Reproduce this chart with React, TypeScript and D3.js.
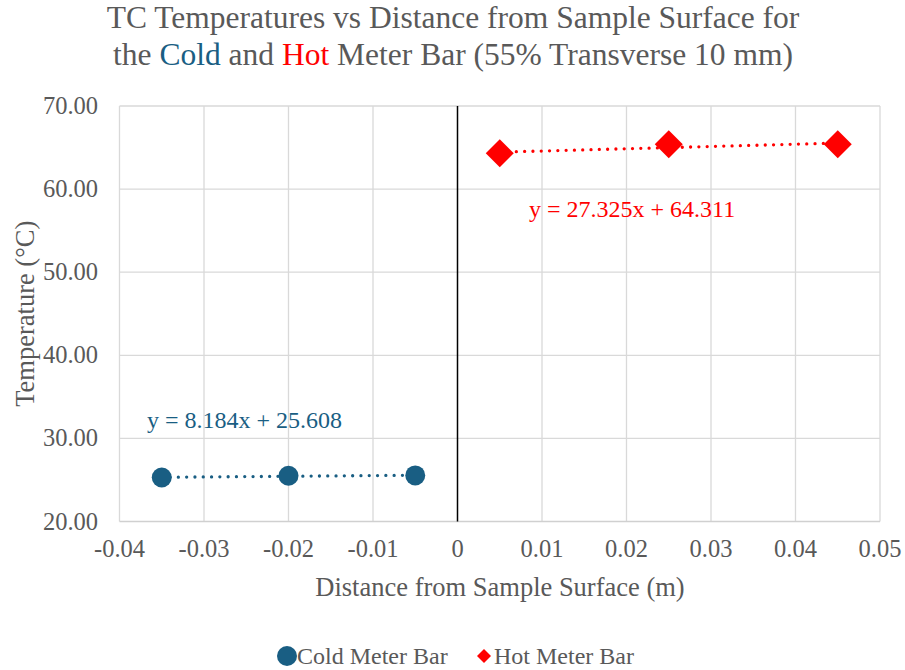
import React from "react";
import * as d3 from "d3";

const coldX = [-0.035, -0.02, -0.005];
const coldY = [25.3, 25.5, 25.55];
const hotX = [0.005, 0.025, 0.045];
const hotY = [64.3, 65.4, 65.4];
const coldFit = { slope: 8.184, intercept: 25.608 };
const hotFit = { slope: 27.325, intercept: 64.311 };
const xTicks = [-0.04, -0.03, -0.02, -0.01, 0, 0.01, 0.02, 0.03, 0.04, 0.05];
const yTicks = [20, 30, 40, 50, 60, 70];

const COLD = "#195E83";
const HOT = "#FF0000";
const GRAY = "#595959";
const FONT = "'Liberation Serif', 'Times New Roman', serif";

export default function App() {
  const W = 905, H = 670;
  const x = d3.scaleLinear().domain([-0.04, 0.05]).range([119.5, 880]);
  const y = d3.scaleLinear().domain([20, 70]).range([521.5, 106]);
  const fitLine = d3.line<number[]>().x((d) => x(d[0])).y((d) => y(d[1]));
  const coldPts = coldX.map((v, i) => [v, coldY[i]]);
  const hotPts = hotX.map((v, i) => [v, hotY[i]]);
  const coldTrend = [coldX[0], coldX[coldX.length - 1]].map((v) => [v, coldFit.slope * v + coldFit.intercept]);
  const hotTrend = [hotX[0], hotX[hotX.length - 1]].map((v) => [v, hotFit.slope * v + hotFit.intercept]);
  const diamond = (cx: number, cy: number, r: number) =>
    `M${cx},${cy - r}L${cx + r},${cy}L${cx},${cy + r}L${cx - r},${cy}Z`;
  const fmtXv = (v: number) => {
    if (Math.abs(v) < 1e-9) return "0";
    return String(Math.round(v * 100) / 100);
  };
  return (
    <svg width={W} height={H} style={{ display: "block", position: "absolute", left: 0, top: 0 }} fontFamily={FONT}>
      <rect x={0} y={0} width={W} height={H} fill="#fff" />
      {/* title */}
      <text x={453} y={28} textAnchor="middle" fontSize={31.5} fill={GRAY}>
        TC Temperatures vs Distance from Sample Surface for
      </text>
      <text x={453} y={65} textAnchor="middle" fontSize={31.5} fill={GRAY}>
        the <tspan fill={COLD}>Cold</tspan> and <tspan fill={HOT}>Hot</tspan> Meter Bar (55% Transverse 10 mm)
      </text>
      {/* gridlines */}
      {yTicks.filter((t) => t > 20).map((t) => (
        <line key={"gy" + t} x1={x(-0.04)} x2={x(0.05)} y1={y(t)} y2={y(t)} stroke="#d9d9d9" strokeWidth={1.3} />
      ))}
      {xTicks.filter((t) => Math.abs(t) > 1e-9).map((t) => (
        <line key={"gx" + t} x1={x(t)} x2={x(t)} y1={y(70)} y2={y(20)} stroke="#d9d9d9" strokeWidth={1.3} />
      ))}
      <line x1={x(-0.04)} x2={x(0.05)} y1={y(20)} y2={y(20)} stroke="#d0d0d0" strokeWidth={1.5} />
      <line x1={x(0)} x2={x(0)} y1={y(70)} y2={y(20)} stroke="#000" strokeWidth={1.5} />
      {/* tick labels */}
      {yTicks.map((t) => (
        <text key={"ty" + t} x={98} y={y(t) + 8} textAnchor="end" fontSize={24.5} fill={GRAY}>
          {t.toFixed(2)}
        </text>
      ))}
      {xTicks.map((t) => (
        <text key={"tx" + t} x={x(t)} y={557} textAnchor="middle" fontSize={24.5} fill={GRAY}>
          {fmtXv(t)}
        </text>
      ))}
      {/* axis titles */}
      <text x={500} y={596} textAnchor="middle" fontSize={26.5} fill={GRAY}>
        Distance from Sample Surface (m)
      </text>
      <text transform={`translate(34,${y(45)}) rotate(-90)`} textAnchor="middle" fontSize={26.5} fill={GRAY}>
        Temperature (°C)
      </text>
      {/* trendlines */}
      <path d={fitLine(coldTrend) || ""} fill="none" stroke={COLD} strokeWidth={3.3} strokeDasharray="0 8.3" strokeLinecap="round" />
      <path d={fitLine(hotTrend) || ""} fill="none" stroke={HOT} strokeWidth={3.3} strokeDasharray="0 8.3" strokeLinecap="round" />
      {/* markers */}
      {coldPts.map((p, i) => (
        <circle key={"c" + i} cx={x(p[0])} cy={y(p[1])} r={10} fill={COLD} />
      ))}
      {hotPts.map((p, i) => (
        <path key={"h" + i} d={diamond(x(p[0]), y(p[1]), 14)} fill={HOT} />
      ))}
      {/* equations */}
      <text x={147} y={428} fontSize={24} fill={COLD}>
        y = 8.184x + 25.608
      </text>
      <text x={529} y={217} fontSize={24} fill={HOT}>
        y = 27.325x + 64.311
      </text>
      {/* legend */}
      <circle cx={287} cy={656} r={10} fill={COLD} />
      <text x={297} y={664} fontSize={24} fill={GRAY}>Cold Meter Bar</text>
      <path d={diamond(484, 656, 7)} fill={HOT} />
      <text x={494} y={664} fontSize={24} fill={GRAY}>Hot Meter Bar</text>
    </svg>
  );
}
